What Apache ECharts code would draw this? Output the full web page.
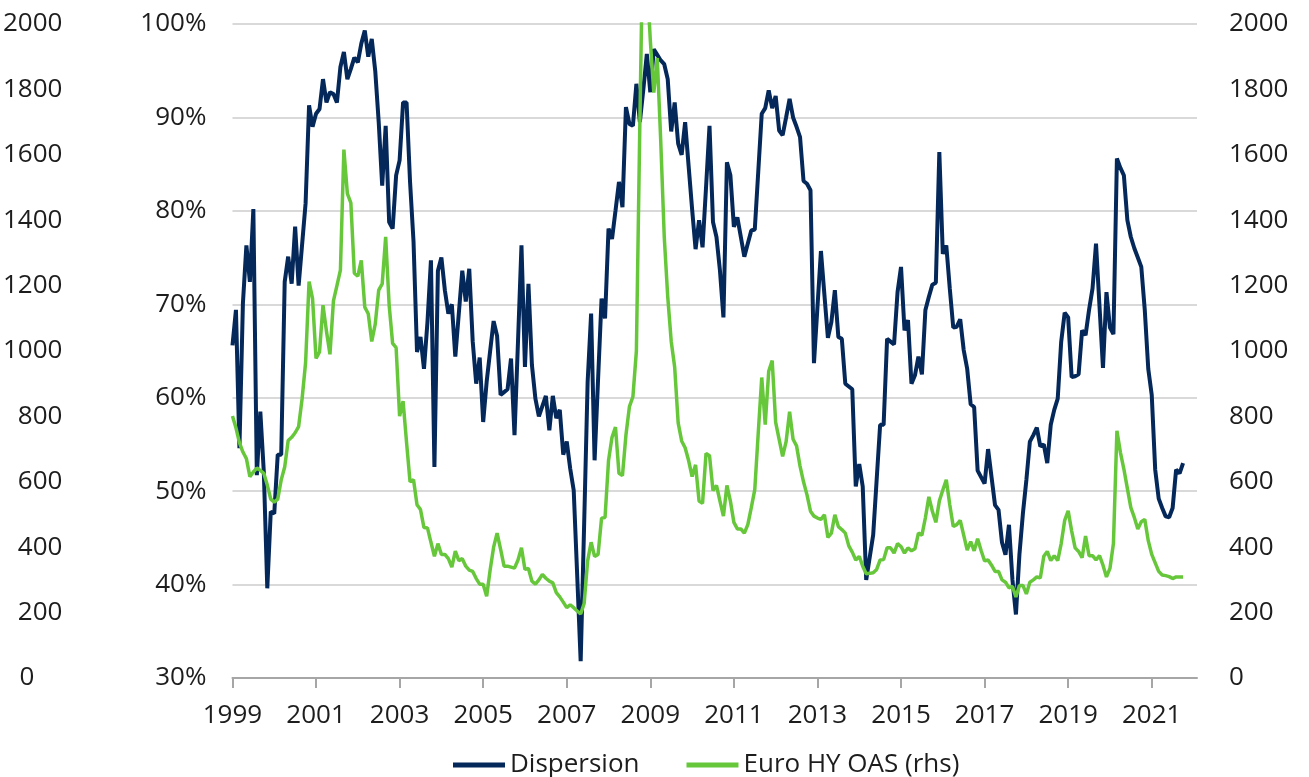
<!DOCTYPE html>
<html>
<head>
<meta charset="utf-8">
<title>Dispersion vs Euro HY OAS</title>
<script src="https://cdn.jsdelivr.net/npm/echarts@6/dist/echarts.min.js"></script>
<style>
  html, body { margin: 0; padding: 0; background: #fff; }
  #chart { width: 1309px; height: 777px; }
</style>
</head>
<body>
<div id="chart"></div>
<script>
// monthly data, Jan 1999 .. Oct 2021
var startYear = 1999;
var yearLabels = ['1999','2001','2003','2005','2007','2009','2011','2013','2015','2017','2019','2021'];
var pctTicks = ['30%','40%','50%','60%','70%','80%','90%','100%'];
var bpsTicks = ['0','200','400','600','800','1000','1200','1400','1600','1800','2000'];

// Dispersion (%), lhs
var dispersion = [
  65.6,69.4,54.6,70.1,76.3,72.4,80.2,51.7,58.5,52.1,39.6,47.8,
  47.6,53.9,53.9,72.4,75.1,72.2,78.3,72.0,76.4,80.8,91.3,89.0,
  90.4,90.9,94.1,91.6,92.7,92.5,91.6,95.4,97.0,94.1,95.2,96.4,
  95.9,97.9,99.3,96.5,98.4,95.0,89.5,82.7,89.1,78.8,78.1,83.8,
  85.4,91.6,91.6,83.1,76.7,64.9,66.5,63.1,68.1,74.7,52.6,73.6,
  75.0,71.5,69.0,70.0,64.4,69.0,73.6,70.3,73.8,66.0,61.5,64.3,
  57.4,61.7,65.0,68.2,66.6,60.3,60.6,60.9,64.2,56.0,66.0,76.3,
  63.3,72.2,63.5,59.9,58.0,59.1,60.2,56.5,60.2,57.8,58.7,53.9,
  55.3,52.4,50.1,41.0,31.8,46.5,61.7,69.0,53.3,62.0,70.6,68.5,
  78.1,77.0,80.0,83.1,80.4,91.1,89.3,89.1,93.6,89.5,93.0,96.8,
  92.7,97.3,96.7,96.1,95.7,94.1,88.5,91.6,87.2,86.0,89.5,84.8,
  80.2,75.9,79.0,76.1,82.5,89.1,78.8,77.2,73.6,68.6,85.2,83.8,
  78.3,79.3,77.2,75.1,76.5,77.9,78.0,84.2,90.4,91.0,92.9,91.0,
  92.3,88.6,88.1,90.0,92.0,90.0,89.0,87.9,83.2,82.9,82.2,63.7,
  69.7,75.7,71.0,66.4,68.1,71.5,66.5,66.3,61.5,61.2,60.9,50.5,
  52.9,50.5,40.5,42.9,45.3,51.2,57.1,57.1,66.3,66.0,65.7,71.3,
  74.0,67.2,68.3,61.5,62.4,64.4,62.5,69.4,70.8,72.1,72.3,86.3,
  75.4,76.3,71.7,67.5,67.6,68.4,65.1,63.1,59.3,59.0,52.2,51.5,
  50.8,54.5,51.5,48.5,48.0,44.5,43.2,46.4,40.5,36.8,43.2,47.6,
  51.2,55.3,56.0,56.8,54.8,55.0,53.0,57.1,58.7,59.9,66.0,69.1,
  68.6,62.2,62.3,62.5,67.2,66.7,69.4,71.7,76.5,69.8,63.2,71.3,
  67.5,66.8,85.6,84.6,83.8,79.0,77.2,76.0,75.0,74.0,69.4,63.1,
  60.3,52.3,49.2,48.2,47.3,47.2,48.2,52.3,51.9,53.0
];

// Euro HY OAS (bp), rhs
var euroHyOas = [
  801,765,720,691,671,616,630,642,635,626,590,547,
  538,547,606,645,726,736,750,769,854,964,1212,1160,
  977,997,1140,1060,990,1153,1200,1247,1616,1481,1453,1238,
  1229,1277,1134,1114,1029,1082,1186,1205,1349,1140,1023,1010,
  801,847,720,600,606,530,515,460,459,415,372,411,
  378,378,365,339,388,359,365,342,330,326,304,287,
  287,250,330,400,443,394,342,342,339,336,361,398,
  332,335,296,287,300,317,305,296,291,261,248,232,
  215,224,215,205,196,228,358,415,372,378,489,491,
  665,736,767,626,619,743,830,860,1000,1700,2350,2150,
  1950,1790,1896,1640,1350,1166,1030,950,780,725,704,665,
  616,652,541,534,687,680,573,589,541,495,589,541,
  476,456,456,443,469,521,576,750,919,775,938,971,
  782,730,678,723,814,730,710,648,600,560,510,495,
  489,485,499,430,443,499,463,454,443,404,385,361,
  372,342,319,320,322,332,361,362,398,398,382,411,
  402,382,398,389,395,443,437,490,554,510,476,541,
  575,606,530,463,469,482,437,391,417,389,426,390,
  358,361,345,326,326,300,293,276,280,248,283,283,
  257,293,300,309,306,372,387,359,374,359,411,482,
  511,450,398,387,368,434,374,374,361,374,345,309,
  335,411,756,690,639,580,521,491,456,478,485,420,
  378,352,326,315,313,310,304,309,309,309
];

var navy = '#05285a';
var green = '#67c73b';
var textColor = '#1d1d1d';
var fontFamily = "'Open Sans', 'Noto Sans', sans-serif";

function toPairs(arr) {
  var out = [];
  for (var i = 0; i < arr.length; i++) {
    out.push([i, arr[i]]);
  }
  return out;
}

var yearTickValues = yearLabels.map(function (y) { return (parseInt(y) - startYear) * 12; });
var pctTickValues = pctTicks.map(function (t) { return parseInt(t); });
var bpsTickValues = bpsTicks.map(function (t) { return parseInt(t); });

var chart = echarts.init(document.getElementById('chart'), null, { renderer: 'canvas' });

var labelStyle = {
  color: textColor,
  fontSize: 26,
  fontFamily: fontFamily
};

function plainNumber(v) {
  return String(v);
}

// far-left labels: the single "0" sits left, like the 3-digit ones
function farLeftNumber(v) {
  return v === 0 ? '{zero|0}' : String(v);
}

var option = {
  animation: false,
  backgroundColor: '#fff',
  textStyle: { fontFamily: fontFamily },
  grid: { left: 231, right: 112, top: 24, bottom: 99, containLabel: false },
  legend: {
    bottom: -6,
    left: 448,
    icon: 'rect',
    itemWidth: 52,
    itemHeight: 5,
    itemGap: 47,
    textStyle: { color: textColor, fontSize: 26, fontFamily: fontFamily },
    data: ['Dispersion', 'Euro HY OAS (rhs)']
  },
  xAxis: {
    type: 'value',
    min: 0,
    max: 277,
    interval: 24,
    axisLine: { show: true, lineStyle: { color: '#a6a6a6', width: 2 } },
    axisTick: { show: true, length: 10, customValues: yearTickValues, lineStyle: { color: '#a6a6a6', width: 2 } },
    axisLabel: Object.assign({
      margin: 25,
      customValues: yearTickValues,
      formatter: function (v) { return String(startYear + Math.round(v / 12)); }
    }, labelStyle),
    splitLine: { show: false }
  },
  yAxis: [
    {
      type: 'value',
      position: 'left',
      min: 30,
      max: 100,
      interval: 10,
      axisLine: { show: false },
      axisTick: { show: false },
      axisLabel: Object.assign({
        margin: 26,
        customValues: pctTickValues,
        formatter: '{value}%'
      }, labelStyle),
      splitLine: { show: true, lineStyle: { color: '#d9d9d9', width: 2 } }
    },
    {
      // duplicate of the rhs scale on the far left
      type: 'value',
      position: 'left',
      min: 0,
      max: 2000,
      interval: 200,
      axisLine: { show: false },
      axisTick: { show: false },
      axisLabel: Object.assign({
        margin: 170,
        customValues: bpsTickValues,
        formatter: farLeftNumber,
        rich: {
          zero: { width: 43, align: 'left', color: textColor, fontSize: 26, fontFamily: fontFamily }
        }
      }, labelStyle),
      splitLine: { show: false }
    },
    {
      type: 'value',
      position: 'right',
      min: 0,
      max: 2000,
      interval: 200,
      axisLine: { show: false },
      axisTick: { show: false },
      axisLabel: Object.assign({
        margin: 32,
        customValues: bpsTickValues,
        formatter: plainNumber
      }, labelStyle),
      splitLine: { show: false }
    }
  ],
  series: [
    {
      name: 'Dispersion',
      type: 'line',
      yAxisIndex: 0,
      data: toPairs(dispersion),
      showSymbol: false,
      symbol: 'none',
      clip: true,
      lineStyle: { color: navy, width: 4 },
      itemStyle: { color: navy },
      z: 2
    },
    {
      name: 'Euro HY OAS (rhs)',
      type: 'line',
      yAxisIndex: 2,
      data: toPairs(euroHyOas),
      showSymbol: false,
      symbol: 'none',
      clip: true,
      lineStyle: { color: green, width: 3.5 },
      itemStyle: { color: green },
      z: 3
    }
  ]
};

chart.setOption(option);
</script>
</body>
</html>
